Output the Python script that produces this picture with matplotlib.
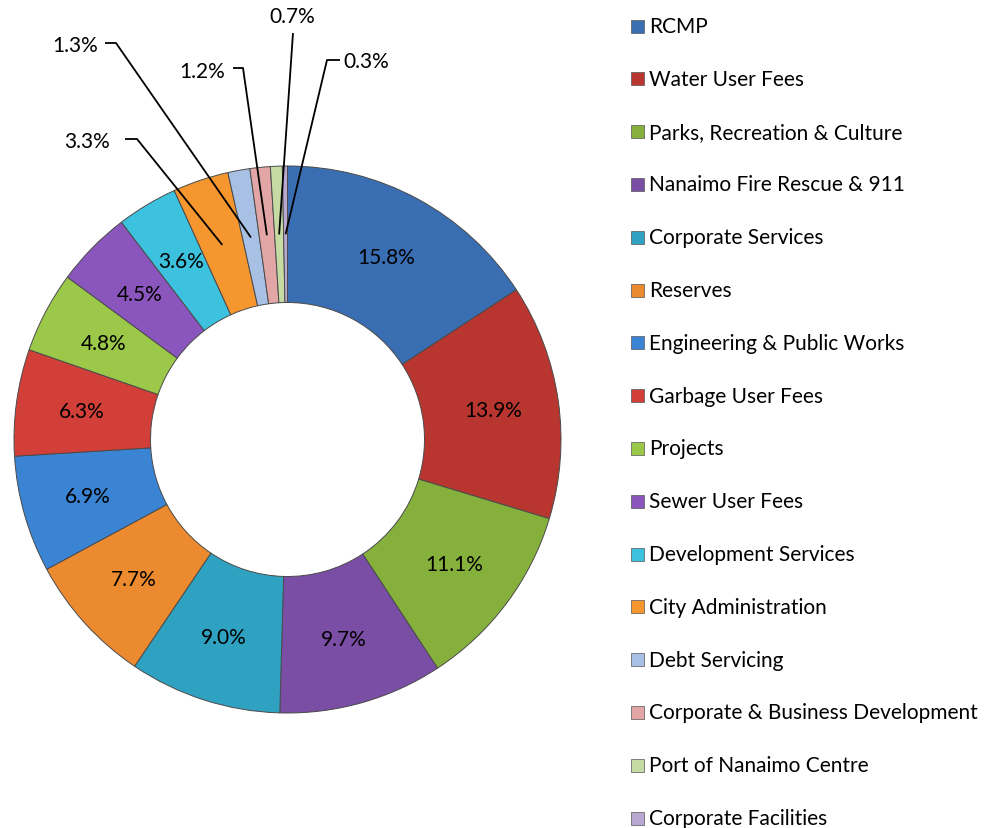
import matplotlib
matplotlib.use("Agg")
import matplotlib.pyplot as plt
import numpy as np
from matplotlib.patches import Rectangle

plt.rcParams['font.family'] = ['Lato', 'DejaVu Sans']

categories = [
    "RCMP", "Water User Fees", "Parks, Recreation & Culture",
    "Nanaimo Fire Rescue & 911", "Corporate Services", "Reserves",
    "Engineering & Public Works", "Garbage User Fees", "Projects",
    "Sewer User Fees", "Development Services", "City Administration",
    "Debt Servicing", "Corporate & Business Development",
    "Port of Nanaimo Centre", "Corporate Facilities",
]
shares = [15.8, 13.9, 11.1, 9.7, 9.0, 7.7, 6.9, 6.3, 4.8, 4.5, 3.6, 3.3,
          1.3, 1.2, 0.7, 0.3]
colors = [
    "#3a6eb3", "#b8362f", "#86b03c", "#7a4ea5", "#2fa2c2", "#ec8a2f",
    "#3a84d3", "#d13f38", "#9cc84a", "#8a56bd", "#3cc1de", "#f6962e",
    "#a9c0e5", "#e3a6a6", "#c5dba3", "#b9a9d2",
]

W, H = 993, 829
fig = plt.figure(figsize=(W / 100, H / 100), dpi=100)
ax = fig.add_axes([0, 0, 1, 1])

cx, cy = 287.5, H - 440.5
R_out, R_in = 273.5, 137.0

ax.pie(shares, colors=colors, startangle=90, counterclock=False,
       radius=R_out, center=(cx, cy),
       wedgeprops=dict(width=R_out - R_in, edgecolor="#4a4a4a",
                       linewidth=0.7))

total = sum(shares)
cum = np.cumsum(shares)
mids = 90 - 360 * (cum - np.array(shares) / 2) / total
r_lab = 0.76 * R_out
r_mid = (R_out + R_in) / 2

# label positions (pixels from top-left) for thin slices labelled outside
outside = {
    11: dict(text=(87, 142), elbow=(137, 140), start=(125, 140)),
    12: dict(text=(75, 46), elbow=(116, 44), start=(105, 44)),
    13: dict(text=(202, 72), elbow=(243, 69), start=(233, 69)),
    14: dict(text=(292, 17), elbow=(293, 34), start=(293, 34)),
    15: dict(text=(366, 62), elbow=(327, 61), start=(340, 61)),
}

FS = 15

for i, (v, a) in enumerate(zip(shares, mids)):
    t = np.deg2rad(a)
    lab = f"{v:.1f}%"
    if i in outside:
        o = outside[i]
        px = cx + r_mid * np.cos(t)
        py = cy + r_mid * np.sin(t)
        xs = [o["start"][0], o["elbow"][0], px]
        ys = [H - o["start"][1], H - o["elbow"][1], py]
        ax.plot(xs, ys, color="black", lw=1.3, solid_capstyle="butt")
        ax.text(o["text"][0], H - o["text"][1], lab, ha="center",
                va="center", fontsize=FS, color="black")
    else:
        ax.text(cx + r_lab * np.cos(t), cy + r_lab * np.sin(t), lab,
                ha="center", va="center", fontsize=FS, color="black")

# legend
for i, (name, c) in enumerate(zip(categories, colors)):
    y = 27 + i * 52.8
    ax.add_patch(Rectangle((631, H - y - 6.5), 13, 13, facecolor=c,
                           edgecolor="#555555", linewidth=0.5))
    ax.text(649, H - y, name, ha="left", va="center", fontsize=FS,
            color="black")

ax.set_xlim(0, W)
ax.set_ylim(0, H)
ax.set_aspect("equal")
ax.axis("off")
fig.savefig("out.png", dpi=100, facecolor="white")
